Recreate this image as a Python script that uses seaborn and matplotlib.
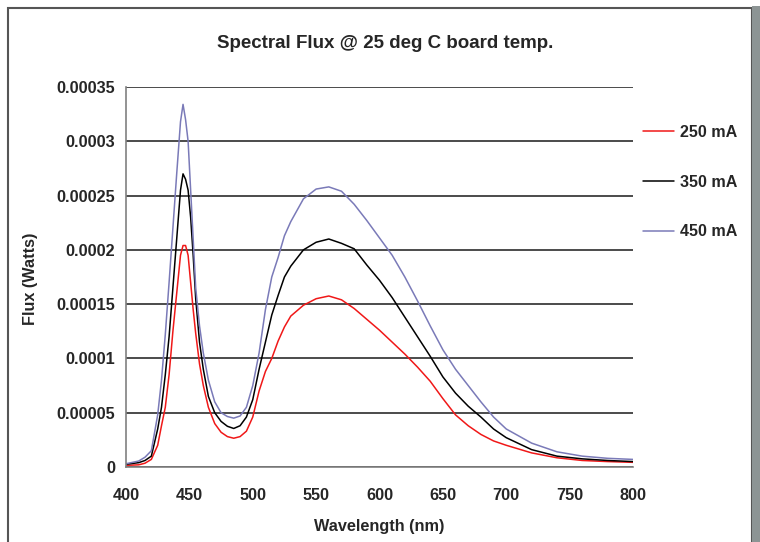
import pandas as pd
import matplotlib.pyplot as plt
import seaborn as sns
from matplotlib.patches import Rectangle

# --- DADOS ---
wavelength = [400, 410, 415, 420, 425, 428, 431, 434, 437, 440, 443, 445, 447, 449,
              451, 453, 455, 458, 461, 465, 470, 475, 480, 485, 490, 495, 500, 505,
              510, 515, 520, 525, 530, 540, 550, 560, 570, 580, 590, 600, 610, 620,
              630, 640, 650, 660, 670, 680, 690, 700, 720, 740, 760, 780, 800]

flux_250 = [0.15e-5, 0.2e-5, 0.35e-5, 0.7e-5, 2.0e-5, 3.8e-5, 5.5e-5, 8.5e-5, 12.5e-5,
            16e-5, 19.5e-5, 20.4e-5, 20.4e-5, 19.5e-5, 17e-5, 14.5e-5, 12.3e-5, 9.5e-5,
            7.5e-5, 5.5e-5, 4.0e-5, 3.2e-5, 2.8e-5, 2.65e-5, 2.8e-5, 3.3e-5, 4.6e-5,
            7e-5, 8.8e-5, 10e-5, 11.6e-5, 12.9e-5, 13.9e-5, 14.9e-5, 15.5e-5, 15.75e-5,
            15.4e-5, 14.6e-5, 13.6e-5, 12.6e-5, 11.5e-5, 10.4e-5, 9.2e-5, 7.9e-5,
            6.3e-5, 4.8e-5, 3.8e-5, 3.0e-5, 2.4e-5, 2.0e-5, 1.3e-5, 0.85e-5, 0.6e-5,
            0.5e-5, 0.43e-5]

flux_350 = [0.25e-5, 0.4e-5, 0.6e-5, 1.0e-5, 3.5e-5, 5.5e-5, 8.5e-5, 12e-5, 16.5e-5,
            21e-5, 25.5e-5, 27e-5, 26.5e-5, 25.5e-5, 23e-5, 19.5e-5, 15.5e-5, 11.5e-5,
            9e-5, 6.5e-5, 5e-5, 4.2e-5, 3.75e-5, 3.55e-5, 3.8e-5, 4.6e-5, 6.2e-5, 9e-5,
            11.5e-5, 14e-5, 15.8e-5, 17.5e-5, 18.5e-5, 20e-5, 20.7e-5, 21e-5, 20.6e-5,
            20.1e-5, 18.6e-5, 17.2e-5, 15.6e-5, 13.8e-5, 12e-5, 10.2e-5, 8.3e-5,
            6.8e-5, 5.6e-5, 4.6e-5, 3.5e-5, 2.7e-5, 1.6e-5, 1.0e-5, 0.75e-5, 0.6e-5,
            0.5e-5]

flux_450 = [0.3e-5, 0.55e-5, 0.9e-5, 1.5e-5, 4.8e-5, 8e-5, 12.2e-5, 17e-5, 22e-5,
            27e-5, 31.8e-5, 33.4e-5, 32e-5, 30e-5, 25.5e-5, 21e-5, 16.5e-5, 13e-5,
            10.5e-5, 8e-5, 6e-5, 5e-5, 4.65e-5, 4.5e-5, 4.7e-5, 5.5e-5, 7.5e-5, 10.5e-5,
            14.5e-5, 17.5e-5, 19.3e-5, 21.3e-5, 22.6e-5, 24.7e-5, 25.6e-5, 25.8e-5,
            25.4e-5, 24.2e-5, 22.7e-5, 21.1e-5, 19.5e-5, 17.5e-5, 15.3e-5, 13e-5,
            10.8e-5, 9.0e-5, 7.5e-5, 6.0e-5, 4.6e-5, 3.5e-5, 2.2e-5, 1.4e-5, 1.0e-5,
            0.8e-5, 0.7e-5]

series_labels = ["250 mA", "350 mA", "450 mA"]
series_colors = ["#f01818", "#000000", "#7a7ab8"]

y_ticks = [0, 0.00005, 0.0001, 0.00015, 0.0002, 0.00025, 0.0003, 0.00035]
y_tick_labels = ["0", "0.00005", "0.0001", "0.00015", "0.0002", "0.00025", "0.0003", "0.00035"]
x_ticks = [400, 450, 500, 550, 600, 650, 700, 750, 800]

df = pd.DataFrame({
    "Wavelength": wavelength * 3,
    "Flux": flux_250 + flux_350 + flux_450,
    "Current": [series_labels[0]] * len(wavelength)
               + [series_labels[1]] * len(wavelength)
               + [series_labels[2]] * len(wavelength),
})

# --- ESTILO ---
sns.set_theme(style="white")
plt.rcParams["font.family"] = ["Liberation Sans", "DejaVu Sans"]
plt.rcParams["font.weight"] = "bold"

fig = plt.figure(figsize=(7.6, 5.42), dpi=100)
ax = fig.add_axes([126 / 760, 1 - 467 / 542, 507 / 760, 380 / 542])

sns.lineplot(data=df, x="Wavelength", y="Flux", hue="Current",
             palette=dict(zip(series_labels, series_colors)),
             linewidth=1.1, estimator=None, sort=False, ax=ax)

ax.set_xlim(400, 800)
ax.set_ylim(0, 0.00035)
ax.set_xticks(x_ticks)
ax.set_xticklabels([str(t) for t in x_ticks], fontsize=11.7, fontweight="bold")
ax.set_yticks(y_ticks)
ax.set_yticklabels(y_tick_labels, fontsize=11.7, fontweight="bold")
ax.set_xlabel("")
ax.set_ylabel("")

ax.yaxis.grid(True, color="#1a1a1a", linewidth=1.1)
ax.xaxis.grid(False)
ax.set_axisbelow(True)
for side in ["top", "right"]:
    ax.spines[side].set_visible(False)
for side in ["left", "bottom"]:
    ax.spines[side].set_color("#808080")
    ax.spines[side].set_linewidth(1.2)
ax.tick_params(axis="y", direction="out", length=5, width=1, color="#808080", pad=3)
ax.tick_params(axis="x", direction="out", length=6, width=1, color="#808080", pad=9)

leg = ax.legend(loc="upper left", bbox_to_anchor=(1.02, 0.9), frameon=False,
                fontsize=11.6, handlelength=1.9, handletextpad=0.4,
                labelspacing=2.15, borderpad=0, borderaxespad=0)
for t in leg.get_texts():
    t.set_fontweight("bold")

fig.text(385 / 760, 1 - 44 / 542, "Spectral Flux @ 25 deg C board temp.",
         ha="center", va="center", fontsize=13.5, fontweight="bold")
fig.text(30 / 760, 1 - 279 / 542, "Flux (Watts)", rotation=90,
         ha="center", va="center", fontsize=11.7, fontweight="bold")
fig.text(379 / 760, 1 - 527 / 542, "Wavelength (nm)",
         ha="center", va="center", fontsize=11.7, fontweight="bold")

# moldura do gráfico
fig.add_artist(Rectangle((8 / 760, -0.05), 744 / 760, 1 - 8 / 542 + 0.05,
                         transform=fig.transFigure, fill=False,
                         edgecolor="#555555", linewidth=1.5))
fig.add_artist(Rectangle((752 / 760, 0), 8 / 760, 1 - 6 / 542,
                         transform=fig.transFigure, color="#8c9494", linewidth=0))

fig.savefig("out.png", dpi=100)
